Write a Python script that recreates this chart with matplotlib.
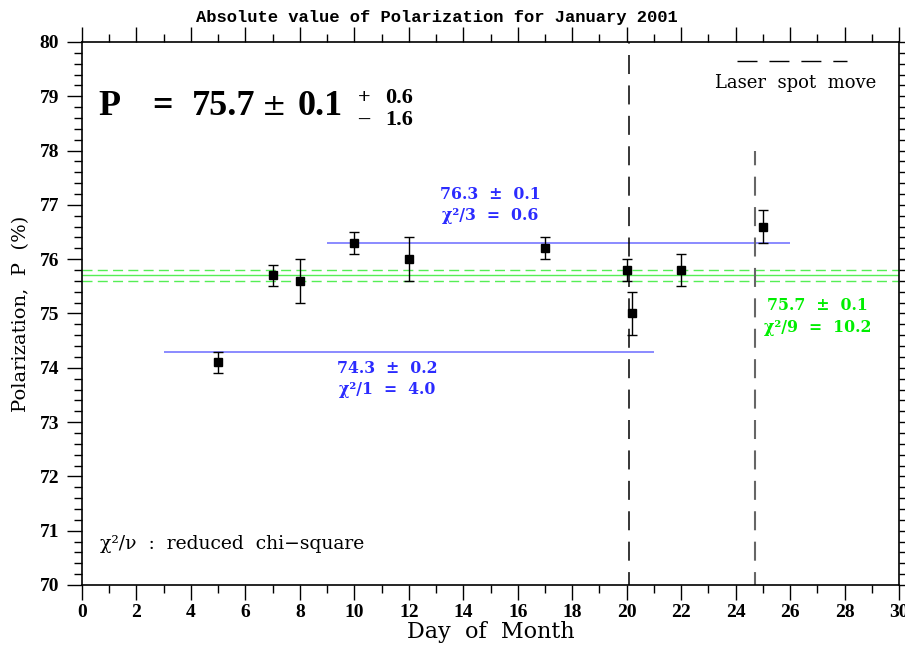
import matplotlib
matplotlib.use("Agg")
import matplotlib.pyplot as plt
from matplotlib.ticker import MultipleLocator

plt.rcParams['font.family'] = ['DejaVu Serif', 'Liberation Serif']

# ---- data ----
days = [5, 7, 8, 10, 12, 17, 20, 20.2, 22, 25]
pol = [74.1, 75.7, 75.6, 76.3, 76.0, 76.2, 75.8, 75.0, 75.8, 76.6]
err = [0.2, 0.2, 0.4, 0.2, 0.4, 0.2, 0.2, 0.4, 0.3, 0.3]

fit1_val, fit1_range = 74.3, (3, 21)
fit2_val, fit2_range = 76.3, (9, 26)
fit_all_val, fit_all_err = 75.7, 0.1

laser_moves = [20.1, 24.7]
laser_tops = [80, 78]
laser_colors = ['black', '#666666']
laser_widths = [1.1, 1.5]

xlim = (0, 30)
ylim = (70, 80)

blue = '#2b2bff'
blue_line = '#6b6bff'
green = '#00ee00'
green_line = '#55ee55'

fig = plt.figure(figsize=(9.05, 6.46), dpi=100)
ax = fig.add_axes([82/905, 61/646, 817/905, 543/646])
ax.set_xlim(*xlim)
ax.set_ylim(*ylim)

# fit lines
ax.axhline(fit_all_val, color=green_line, lw=1.0)
ax.axhline(fit_all_val + fit_all_err, color=green_line, lw=1.0, ls=(0, (7.2, 3.8)))
ax.axhline(fit_all_val - fit_all_err, color=green_line, lw=1.0, ls=(0, (7.2, 3.8)))
ax.hlines(fit1_val, *fit1_range, color=blue_line, lw=1.1)
ax.hlines(fit2_val, *fit2_range, color=blue_line, lw=1.1)

# laser spot moves
for xv, top, c, w in zip(laser_moves, laser_tops, laser_colors, laser_widths):
    ax.vlines(xv, ylim[0], top, color=c, lw=w,
              ls=(4 / w * 1.1, (13.7 / w, 8.2 / w)))

# data
ax.errorbar(days, pol, yerr=err, fmt='s', color='black', ms=6, capsize=3.5,
            elinewidth=1.0, capthick=1.0, zorder=5)

# ticks
ax.xaxis.set_major_locator(MultipleLocator(2))
ax.xaxis.set_minor_locator(MultipleLocator(1))
ax.yaxis.set_major_locator(MultipleLocator(1))
ax.yaxis.set_minor_locator(MultipleLocator(0.2))
ax.tick_params(which='both', direction='out', top=True, right=True, width=1.0)
ax.tick_params(which='major', length=10.5, pad=3)
ax.tick_params(which='minor', length=5.8)
ax.tick_params(axis='y', which='major', pad=6)
for lab in ax.get_xticklabels() + ax.get_yticklabels():
    lab.set_fontweight('bold')
    lab.set_family(['Liberation Serif'])
    lab.set_fontsize(14)
for s in ax.spines.values():
    s.set_linewidth(1.2)

ax.set_xlabel('Day  of  Month', fontsize=16, labelpad=0)
ax.set_ylabel('Polarization,  P  (%)', fontsize=14, labelpad=7)
fig.text(0.483, 0.985, 'Absolute value of Polarization for January 2001',
         ha='center', va='top', fontsize=12.3, fontweight='bold',
         family=['Liberation Mono'])

# Big P text
big = dict(transform=ax.transAxes, fontsize=26, fontweight='bold',
           va='baseline', ha='left', family=['Liberation Serif'])
ax.text(0.0196, 0.8656, 'P', **big)
ax.text(0.0857, 0.8656, '=', **big)
ax.text(0.1346, 0.8656, '75.7', **big)
ax.text(0.2203, 0.8656, '±', transform=ax.transAxes, fontsize=21,
        va='baseline', ha='left')
ax.text(0.2644, 0.8656, '0.1', **big)
small = dict(transform=ax.transAxes, fontsize=16, fontweight='bold',
             va='baseline', ha='left', family=['Liberation Serif'])
ax.text(0.3378, 0.8877, '+', **small)
ax.text(0.3709, 0.8877, '0.6', **small)
ax.text(0.3378, 0.8471, '–', **small)
ax.text(0.3709, 0.8471, '1.6', **small)

# fit annotations
ann_kw = dict(fontsize=11.3, fontweight='bold', ha='center', va='top',
              linespacing=1.35)
ax.text(11.2, 74.15, '74.3  ±  0.2\nχ²/1  =  4.0', color=blue, **ann_kw)
ax.text(15.0, 77.35, '76.3  ±  0.1\nχ²/3  =  0.6', color=blue, **ann_kw)
ax.text(27.0, 75.3, '75.7  ±  0.1\nχ²/9  =  10.2', color=green, **ann_kw)

ax.text(0.022, 0.075, 'χ²/ν  :  reduced  chi−square', transform=ax.transAxes,
        fontsize=13.5, ha='left', va='center')

# legend
ax.plot([0.802, 0.936], [0.965, 0.965], transform=ax.transAxes, color='black',
        lw=1.0, ls=(0, (14.4, 8.6)))
ax.text(0.874, 0.925, 'Laser  spot  move', transform=ax.transAxes,
        fontsize=13, ha='center', va='center')

fig.savefig('out.png', dpi=100)
